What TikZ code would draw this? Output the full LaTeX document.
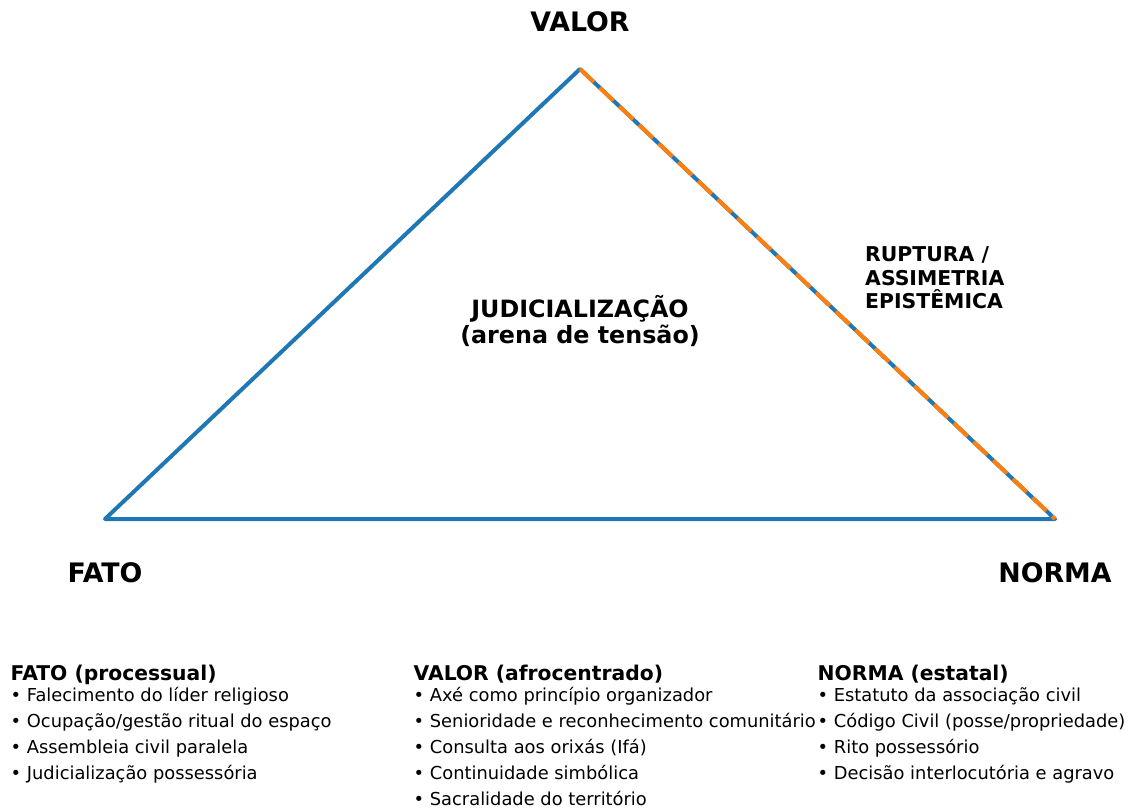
\documentclass[tikz,border=0pt]{standalone}
\usepackage{fontspec}
\setmainfont{DejaVu Sans}
\definecolor{mblue}{HTML}{1F77B4}
\definecolor{morange}{HTML}{FF7F0E}
\tikzset{
  edge/.style={draw=mblue, line width=4pt, line join=round},
  rupt/.style={draw=morange, line width=4pt, dash pattern=on 19pt off 8.1pt},
  biglbl/.style={inner sep=0pt, anchor=base, font=\fontsize{26.8}{31}\selectfont\bfseries},
  midlbl/.style={inner sep=0pt, anchor=base, font=\fontsize{23.8}{27}\selectfont\bfseries},
  ruplbl/.style={inner sep=0pt, anchor=base west, font=\fontsize{20.4}{23}\selectfont\bfseries},
  colhead/.style={inner sep=0pt, anchor=base west, font=\fontsize{20.3}{24}\selectfont\bfseries},
  bullet/.style={inner sep=0pt, anchor=base west, font=\fontsize{17.85}{21}\selectfont},
}
\begin{document}
\begin{tikzpicture}[x=1pt,y=-1pt]
\useasboundingbox (0,0) rectangle (1134,809);
\coordinate (F) at (105,519);
\coordinate (V) at (580,69);
\coordinate (N) at (1055,519);
\draw[edge] (F) -- (V) -- (N) -- cycle;
\draw[rupt] (V) -- (N);

\node[biglbl] (lv) at (580,31) {VALOR};
\node[biglbl] (lf) at (105,582) {FATO};
\node[biglbl] (ln) at (1055,582) {NORMA};

\node[midlbl] (j1) at (580,317) {JUDICIALIZAÇÃO};
\node[midlbl] (j2) at (580,343) {(arena de tensão)};

\node[ruplbl] (r1) at (865,261.5) {RUPTURA /};
\node[ruplbl] (r2) at (865,285) {ASSIMETRIA};
\node[ruplbl] (r3) at (865,308.5) {EPISTÊMICA};

\node[colhead] (hf) at (10.5,680.5) {FATO (processual)};
\node[bullet] (f1) at (10.5,701.5) {• Falecimento do líder religioso};
\node[bullet] (f2) at (10.5,727.5) {• Ocupação/gestão ritual do espaço};
\node[bullet] (f3) at (10.5,753.5) {• Assembleia civil paralela};
\node[bullet] (f4) at (10.5,779.5) {• Judicialização possessória};

\node[colhead] (hv) at (413.5,680.5) {VALOR (afrocentrado)};
\node[bullet] (v1) at (413.5,701.5) {• Axé como princípio organizador};
\node[bullet] (v2) at (413.5,727.5) {• Senioridade e reconhecimento comunitário};
\node[bullet] (v3) at (413.5,753.5) {• Consulta aos orixás (Ifá)};
\node[bullet] (v4) at (413.5,779.5) {• Continuidade simbólica};
\node[bullet] (v5) at (413.5,805.5) {• Sacralidade do território};

\node[colhead] (hn) at (817.5,680.5) {NORMA (estatal)};
\node[bullet] (n1) at (817.5,701.5) {• Estatuto da associação civil};
\node[bullet] (n2) at (817.5,727.5) {• Código Civil (posse/propriedade)};
\node[bullet] (n3) at (817.5,753.5) {• Rito possessório};
\node[bullet] (n4) at (817.5,779.5) {• Decisão interlocutória e agravo};
\end{tikzpicture}
\end{document}
